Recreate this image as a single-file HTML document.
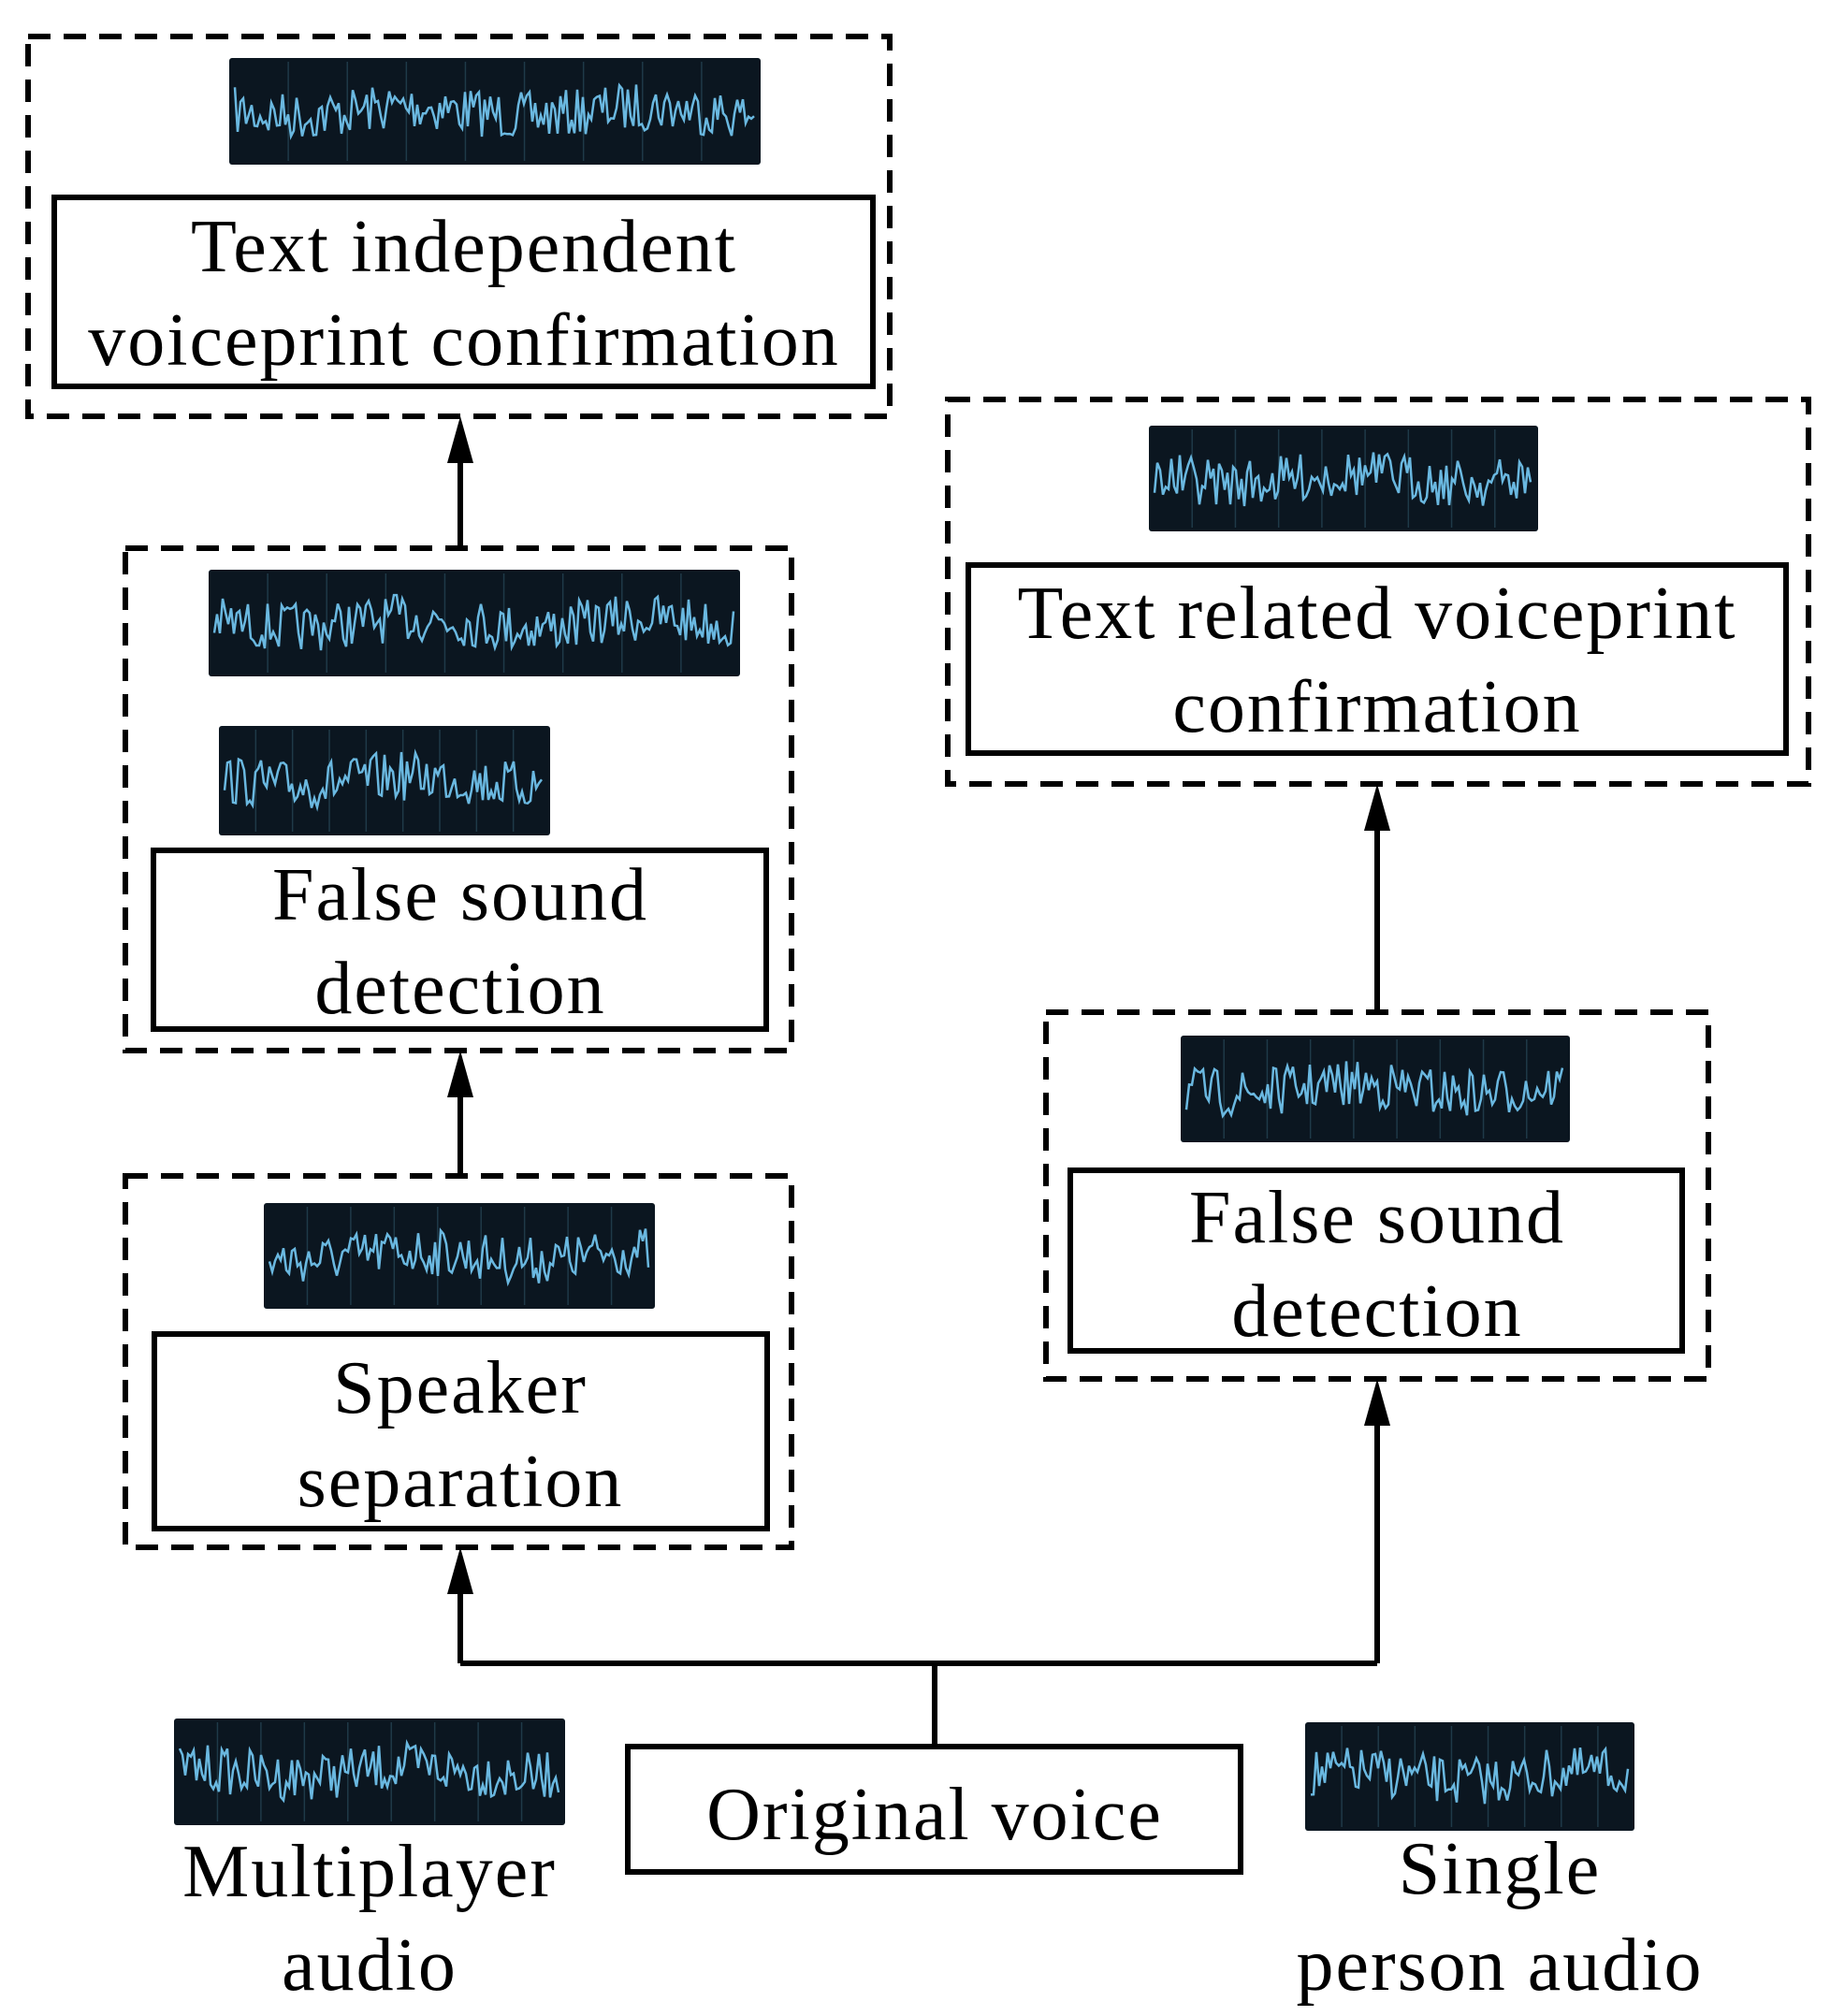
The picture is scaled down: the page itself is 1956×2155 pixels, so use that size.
<!DOCTYPE html>
<html><head><meta charset="utf-8"><style>
html,body{margin:0;padding:0;background:#fff;}
svg{display:block;}
text{font-family:"Liberation Serif",serif;font-size:80px;fill:#000;text-anchor:middle;letter-spacing:2px;}
.d{fill:none;stroke:#000;stroke-width:6;stroke-dasharray:24 14;}
.s{fill:#fff;stroke:#000;stroke-width:6;}
.l{stroke:#000;stroke-width:6;fill:none;}
</style></head><body>
<svg id="svg" width="1956" height="2155" viewBox="0 0 1956 2155" xmlns="http://www.w3.org/2000/svg">
<rect class="d" x="30" y="39" width="921" height="406"/>
<rect class="d" x="134" y="586" width="712" height="537"/>
<rect class="d" x="134" y="1257" width="712" height="397"/>
<rect class="d" x="1013" y="427" width="920" height="411"/>
<rect class="d" x="1118" y="1082" width="708" height="392"/>
<rect class="s" x="58" y="211" width="875" height="202"/>
<rect class="s" x="164" y="909" width="655" height="191"/>
<rect class="s" x="165" y="1426" width="655" height="208"/>
<rect class="s" x="1035" y="604" width="874" height="201"/>
<rect class="s" x="1144" y="1251" width="654" height="193"/>
<rect class="s" x="671" y="1867" width="655" height="134"/>
<path class="l" d="M492 1778 H1472 M999 1778 V1867 M492 1778 V1700 M1472 1778 V1515 M492 1257 V1165 M492 586 V490 M1472 1082 V880"/>
<polygon points="492,1654 478,1704 506,1704"/>
<polygon points="1472,1474 1458,1524 1486,1524"/>
<polygon points="492,1123 478,1173 506,1173"/>
<polygon points="492,445 478,495 506,495"/>
<polygon points="1472,838 1458,888 1486,888"/>
<g id="waves"></g>
<text x="496" y="290">Text independent</text>
<text x="496" y="390">voiceprint confirmation</text>
<text x="492" y="983">False sound</text>
<text x="492" y="1083">detection</text>
<text x="492" y="1510">Speaker</text>
<text x="492" y="1610">separation</text>
<text x="1472" y="682">Text related voiceprint</text>
<text x="1472" y="782">confirmation</text>
<text x="1472" y="1328">False sound</text>
<text x="1472" y="1428">detection</text>
<text x="999" y="1966">Original voice</text>
<text x="395" y="2027">Multiplayer</text>
<text x="395" y="2127">audio</text>
<text x="1603" y="2024">Single</text>
<text x="1603" y="2127">person audio</text>
</svg>
<script>
(function(){
var W=[[245,62,568,114],[223,609,568,114],[234,776,354,117],[282,1286,418,113],[186,1837,418,114],[1395,1841,352,116],[1262,1107,416,114],[1228,455,416,113]];
var g=document.getElementById('waves'),ns='http://www.w3.org/2000/svg',seed=7;
function r(){seed=(seed*16807)%2147483647;return seed/2147483647;}
W.forEach(function(w){
 var x=w[0],y=w[1],wd=w[2],h=w[3];
 var rc=document.createElementNS(ns,'rect');
 rc.setAttribute('x',x);rc.setAttribute('y',y);rc.setAttribute('width',wd);rc.setAttribute('height',h);rc.setAttribute('rx',3);rc.setAttribute('fill','#0b1620');g.appendChild(rc);
 for(var i=1;i<9;i++){var ln=document.createElementNS(ns,'line');var lx=x+wd*i/9;ln.setAttribute('x1',lx);ln.setAttribute('x2',lx);ln.setAttribute('y1',y+4);ln.setAttribute('y2',y+h-4);ln.setAttribute('stroke','#1f3a48');ln.setAttribute('stroke-width',1.5);g.appendChild(ln);}
 var p='',cy=y+h/2;
 for(var px=x+6;px<x+wd-6;px+=3){var v=cy+(r()-0.5)*h*0.45+Math.sin(px/40)*5;p+=(p?' L':'M')+px.toFixed(1)+' '+v.toFixed(1);}
 var pa=document.createElementNS(ns,'path');pa.setAttribute('d',p);pa.setAttribute('stroke','#6ab8e0');pa.setAttribute('stroke-width',2.5);pa.setAttribute('fill','none');g.appendChild(pa);
});
})();
</script>
</body></html>
